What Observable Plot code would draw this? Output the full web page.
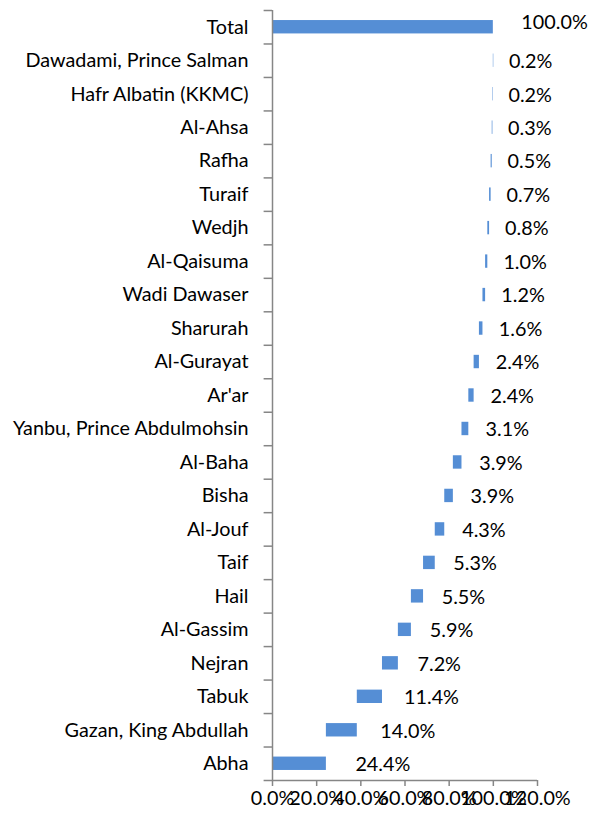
<!DOCTYPE html>
<html>
<head>
<meta charset="utf-8">
<script src="https://cdn.jsdelivr.net/npm/d3@7"></script>
<script src="https://cdn.jsdelivr.net/npm/@observablehq/plot@0.6"></script>
<style>
  html, body { margin: 0; padding: 0; background: #fff; }
  #chart svg { display: block; }
</style>
</head>
<body>
<div id="chart"></div>
<script>
const categories = ["Total","Dawadami, Prince Salman","Hafr Albatin (KKMC)","Al-Ahsa","Rafha","Turaif","Wedjh","Al-Qaisuma","Wadi Dawaser","Sharurah","Al-Gurayat","Ar'ar","Yanbu, Prince Abdulmohsin","Al-Baha","Bisha","Al-Jouf","Taif","Hail","Al-Gassim","Nejran","Tabuk","Gazan, King Abdullah","Abha"];
const values = [100.0,0.2,0.2,0.3,0.5,0.7,0.8,1.0,1.2,1.6,2.4,2.4,3.1,3.9,3.9,4.3,5.3,5.5,5.9,7.2,11.4,14.0,24.4];
const xTicks = [0,20,40,60,80,100,120];

// build waterfall table: cumulate from the bottom (Abha) upward
const rows = categories.map((c, i) => ({category: c, value: values[i]}));
let acc = 0;
for (let i = rows.length - 1; i >= 0; i--) {
  const r = rows[i];
  if (r.category === "Total") { r.x1 = 0; r.x2 = r.value; }
  else { r.x1 = acc; r.x2 = acc + r.value; acc = r.x2; }
}
const totalRows = rows.filter(d => d.category === "Total");
const otherRows = rows.filter(d => d.category !== "Total");

const W = 592, H = 816, mT = 10, mB = 36, mL = 272, mR = 55;
const step = (H - mT - mB) / categories.length;
const font = "Lato, 'Open Sans', sans-serif";
const fs = 19.8;
const blue = "#558ed5";
const gray = "#868686";
const fmt = v => v.toFixed(1) + "%";

const chart = Plot.plot({
  width: W, height: H,
  marginTop: mT, marginBottom: mB, marginLeft: mL, marginRight: mR,
  style: {fontFamily: font, fontSize: fs + "px", color: "#000", background: "#fff"},
  x: {domain: [0, 120], ticks: xTicks},
  y: {domain: categories, paddingInner: 0.6, paddingOuter: 0.3, round: false},
  marks: [
    Plot.barX(rows, {y: "category", x1: "x1", x2: "x2", fill: blue}),
    Plot.text(otherRows, {
      y: "category",
      x: d => d.x2 + 0.26 * d.value,
      text: d => fmt(d.value),
      textAnchor: "start",
      dx: 15, dy: 1,
      fontSize: fs, fill: "#000"
    }),
    Plot.text(totalRows, {
      y: "category", x: "x2",
      text: d => fmt(d.value),
      textAnchor: "start",
      dx: 28, dy: -5,
      fontSize: fs, fill: "#000"
    }),
    Plot.ruleX([0], {stroke: gray, strokeWidth: 1.5}),
    Plot.ruleY(categories, {y: d => d, x1: -3.8, x2: 0, dy: -step / 2, stroke: gray, strokeWidth: 1.5}),
    Plot.ruleY([categories[categories.length - 1]], {y: d => d, x1: -3.8, x2: 120, dy: step / 2, stroke: gray, strokeWidth: 1.5}),
    Plot.axisY({tickSize: 0, tickPadding: 24, fontSize: fs, label: null}),
    Plot.axisX({ticks: xTicks, tickFormat: fmt, tickSize: 6, tickPadding: 4, stroke: gray, strokeWidth: 1.5, fontSize: fs, label: null})
  ]
});
document.getElementById("chart").appendChild(chart);
</script>
</body>
</html>
